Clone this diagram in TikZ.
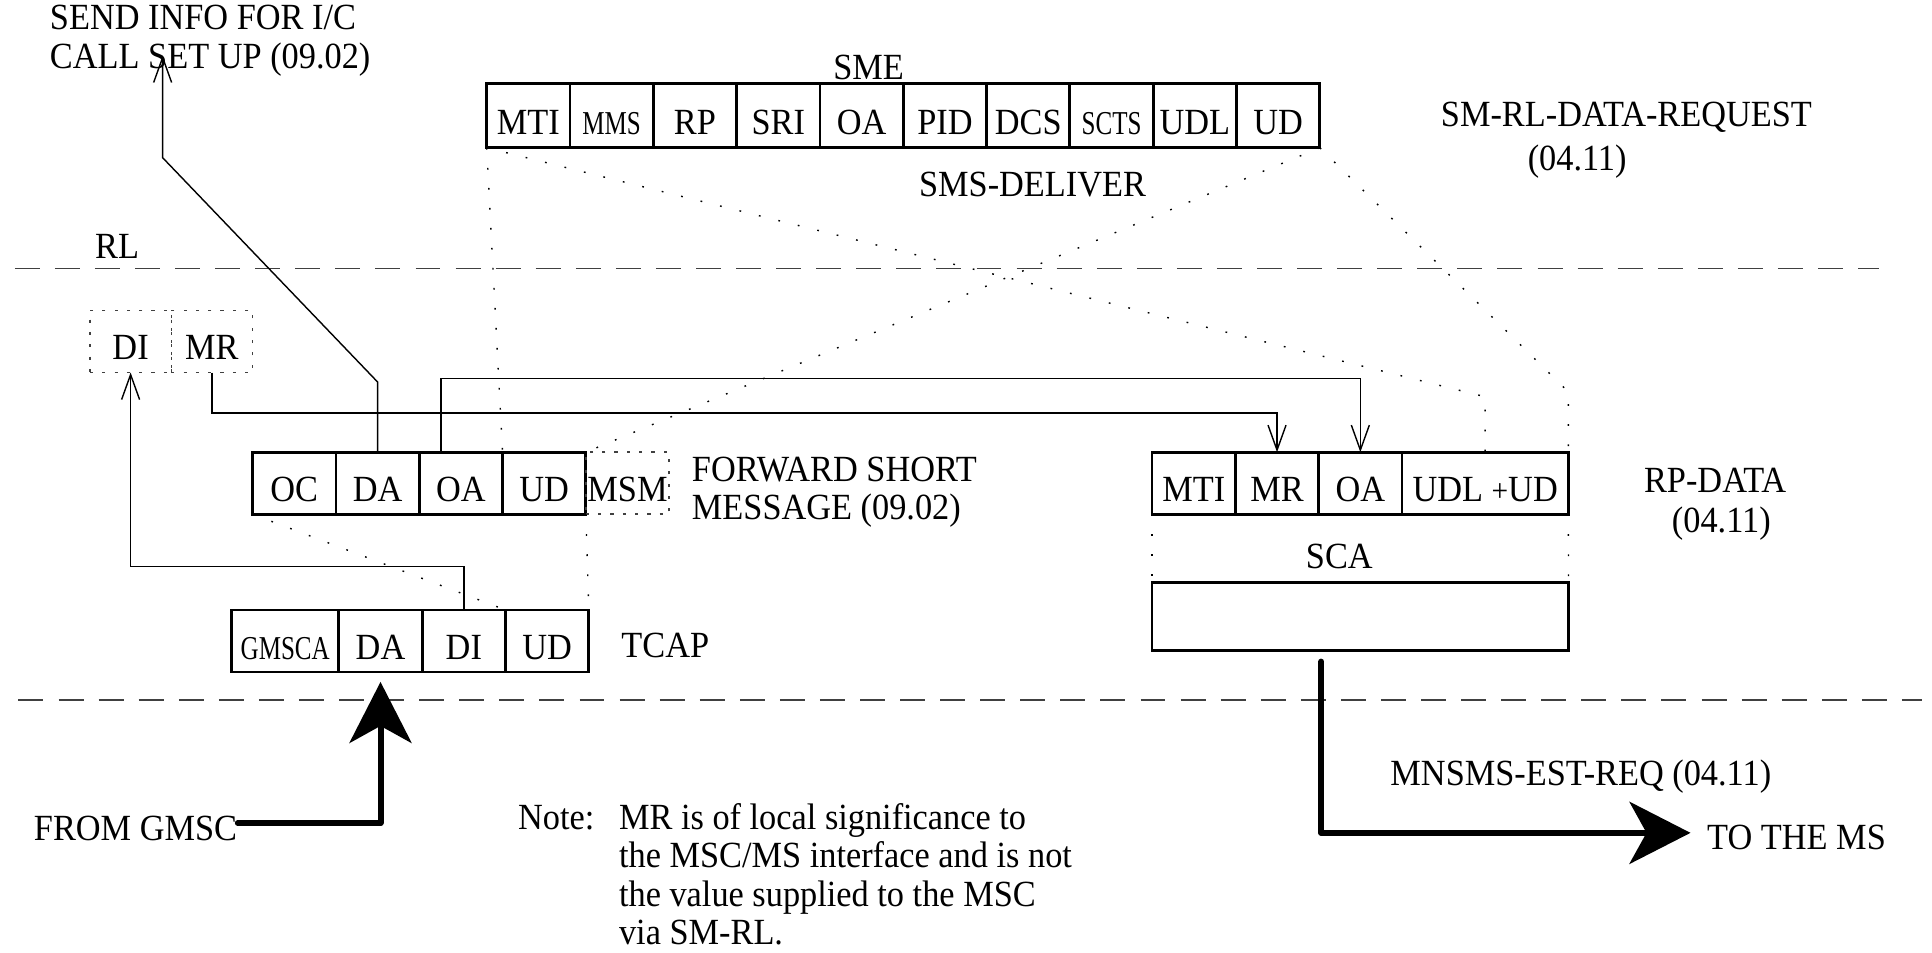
\documentclass[tikz,border=0pt]{standalone}
\usepackage{fontspec}
\setmainfont{Liberation Serif}[FakeStretch=0.93]
\newfontfamily\narrowfont{Liberation Serif}[FakeStretch=0.75]
\usepackage{tikz}
\usetikzlibrary{arrows.meta, positioning, calc}
\newcommand{\slimtxt}[1]{{\narrowfont\fontsize{9.5}{10}\selectfont #1}}

\begin{document}
\begin{tikzpicture}[
  x=0.1232mm, y=0.1232mm,
  font=\fontsize{10.5}{10.9}\selectfont,
  fld/.style={draw, line width=0.8pt, minimum width=8.33mm, minimum height=6.2mm, inner sep=0pt, outer sep=0pt, text height=10.4pt, text depth=0pt},
  dfld/.style={fld, line width=0.4pt, draw=black!75, dash pattern=on 0.9pt off 2.6pt},
  lbl/.style={inner sep=0pt},
  arr/.style={line width=0.4pt, -{Straight Barb[length=2.5mm, width=1.8mm]}},
  dotln/.style={line width=0.4pt, dash pattern=on 0.5pt off 5.2pt},
  layer/.style={line width=0.5pt, draw=black!75, dash pattern=on 7.1pt off 4.3pt},
  bigarr/.style={line width=1.7pt, line join=round, line cap=round, -{Stealth[length=6.1mm, width=6.2mm, inset=1.7mm]}}
]
  \useasboundingbox (0,0) rectangle (1568,-773);

  % Layer borders
  \draw[layer] (12,-218) -- (1525,-218);
  \draw[layer] (15,-568) -- (1560,-568);
  \node[lbl] (rl) at (95,-200) {RL};

  % SMS-DELIVER
  \node[lbl] (smetxt) at (705,-55) {SME};
  \node[fld, minimum height=6.4mm, anchor=north west] (sMTI) at (395,-68) {MTI};
  \node[fld, minimum height=6.4mm, right=0pt of sMTI] (sMMS) {\slimtxt{MMS}};
  \node[fld, minimum height=6.4mm, right=0pt of sMMS] (sRP) {RP};
  \node[fld, minimum height=6.4mm, right=0pt of sRP] (sSRI) {SRI};
  \node[fld, minimum height=6.4mm, right=0pt of sSRI] (sOA) {OA};
  \node[fld, minimum height=6.4mm, right=0pt of sOA] (sPID) {PID};
  \node[fld, minimum height=6.4mm, right=0pt of sPID] (sDCS) {DCS};
  \node[fld, minimum height=6.4mm, right=0pt of sDCS] (sSCTS) {\slimtxt{SCTS}};
  \node[fld, minimum height=6.4mm, right=0pt of sSCTS] (sUDL) {UDL};
  \node[fld, minimum height=6.4mm, right=0pt of sUDL] (sUD) {UD};
  \node[lbl] (deliver) at (838,-150) {SMS-DELIVER};
  \node[lbl] (smrl) at (1320,-95) {SM-RL-DATA-REQUEST};
  \node[lbl] (smrlref) at (1280,-131) {(04.11)};

  % Send info / DI MR
  \node[lbl, anchor=west, align=left] (send) at (40,-33) {SEND INFO FOR I/C\\CALL SET UP (09.02)};
  \coordinate (sendtip) at (132,-45);
  \node[dfld, minimum width=8.13mm, anchor=north west] (xDI) at (73,-252) {DI};
  \node[dfld, minimum width=8.13mm, right=0pt of xDI] (xMR) {MR};

  % Forward short message
  \node[fld, anchor=north west] (fOC) at (205,-367) {OC};
  \node[fld, right=0pt of fOC] (fDA) {DA};
  \node[fld, right=0pt of fDA] (fOA) {OA};
  \node[fld, right=0pt of fOA] (fUD) {UD};
  \node[dfld, right=0pt of fUD] (fMSM) {MSM};
  \node[lbl, anchor=north west, align=left] (fsmtxt) at (561,-370) {FORWARD SHORT\\MESSAGE (09.02)};

  % TCAP
  \node[fld, minimum width=10.72mm, anchor=north west] (tGM) at (188,-495) {\slimtxt{GMSCA}};
  \node[fld, right=0pt of tGM] (tDA) {DA};
  \node[fld, right=0pt of tDA] (tDI) {DI};
  \node[fld, right=0pt of tDI] (tUD) {UD};
  \node[lbl] (tcaptxt) at (540,-524) {TCAP};

  % RP-DATA
  \node[fld, anchor=north west] (rMTI) at (935,-367) {MTI};
  \node[fld, right=0pt of rMTI] (rMR) {MR};
  \node[fld, right=0pt of rMR] (rOA) {OA};
  \node[fld, minimum width=16.63mm, right=0pt of rOA] (rUD) {UDL {\small+}UD};
  \node[lbl] (rptxt) at (1392,-390) {RP-DATA};
  \node[lbl] (rpref) at (1397,-425) {(04.11)};
  \node[lbl] (scatxt) at (1087,-452) {SCA};
  \node[draw, line width=0.8pt, minimum width=41.64mm, minimum height=6.78mm, outer sep=0pt, anchor=north west] (sca) at (935,-473) {};

  % Lower layer
  \node[lbl, anchor=east] (gmsc) at (193,-672) {FROM GMSC};
  \node[lbl] (mnsms) at (1283,-630) {MNSMS-EST-REQ (04.11)};
  \node[lbl, anchor=west] (toms) at (1385,-680) {TO THE MS};
  \node[lbl, anchor=north west] (note) at (420,-651) {%
    \begin{tabular}{@{}l@{\hspace{7pt}}l@{}}
      Note: & MR is of local significance to\\
            & the MSC/MS interface and is not\\
            & the value supplied to the MSC\\
            & via SM-RL.
    \end{tabular}};

  % Field mapping
  \draw[arr] (fDA.north) -- ++(0,57) -- (132,-128) -- (sendtip);
  \draw[arr] (tDI.north) -- ++(0,35) -| (xDI.south);
  \draw[arr] (xMR.south) -- ++(0,-33) -| (rMR.north);
  \draw[arr] ([xshift=-2mm]fOA.north) -- ++(0,60) -| (rOA.north);

  \draw[dotln] (sMTI.south west) -- (fUD.north west);
  \draw[dotln] (sUD.south east) -- (fUD.north east);
  \draw[dotln] (sMTI.south west) -- ($(rUD.north)+(0,45)$) -- ($(rUD.north)+(0,-13)$);
  \draw[dotln] (sUD.south east) -- ($(rUD.north east)+(0,49)$) -- (rUD.north east);
  \draw[dotln] (fOC.south west) -- (tUD.north west);
  \draw[dotln] (fUD.south east) -- (tUD.north east);
  \draw[dotln] (rMTI.south west) -- (sca.north west);
  \draw[dotln] (rUD.south east) -- (sca.north east);

  % In and out
  \draw[bigarr] ([yshift=0.5mm]gmsc.east) -| ([yshift=-1mm]tDA.south);
  \draw[bigarr] ([xshift=-3.9mm, yshift=-1.1mm]sca.south) |- ([xshift=-1.6mm, yshift=0.5mm]toms.west);
\end{tikzpicture}
\end{document}
